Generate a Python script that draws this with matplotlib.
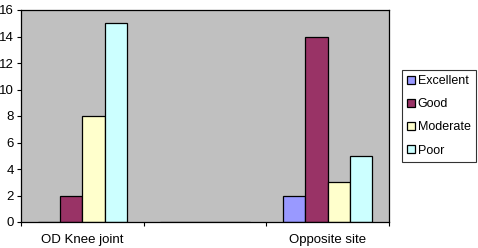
import matplotlib
matplotlib.use("Agg")
import matplotlib.pyplot as plt
import numpy as np

categories = ["OD Knee joint", "", "Opposite site"]
series_names = ["Excellent", "Good", "Moderate", "Poor"]
excellent = [0, 0, 2]
good = [2, 0, 14]
moderate = [8, 0, 3]
poor = [15, 0, 5]
colors = ["#9999FF", "#993366", "#FFFFCC", "#CCFFFF"]
yticks = [0, 2, 4, 6, 8, 10, 12, 14, 16]

plt.rcParams['font.family'] = ['Liberation Sans', 'DejaVu Sans']
FS = 9.5

fig = plt.figure(figsize=(4.78, 2.48), dpi=100)
ax = fig.add_axes([21/478, 1-222/248, (389-21)/478, (222-10)/248])
ax.set_facecolor("#C0C0C0")

x = np.arange(len(categories))
w = 1/5.5
data = [excellent, good, moderate, poor]
handles = []
for i, (vals, c, name) in enumerate(zip(data, colors, series_names)):
    b = ax.bar(x + (i - 1.5) * w, vals, width=w, color=c, edgecolor="black",
               linewidth=0.9, label=name)
    handles.append(b)

ax.set_xlim(-0.5, 2.5)
ax.set_ylim(0, 16)
ax.set_yticks(yticks)
ax.set_yticklabels([str(v) for v in yticks], fontsize=FS)
ax.set_xticks([0, 2])
ax.set_xticklabels([categories[0], categories[2]], fontsize=FS)
ax.tick_params(axis='x', length=0, pad=9)
ax.set_xticks([-0.5, 0.5, 1.5, 2.5], minor=True)
ax.tick_params(axis='x', which='minor', length=3, width=0.8, direction='out')
ax.tick_params(axis='y', length=3, width=0.8, direction='out', pad=2)
for s in ax.spines.values():
    s.set_linewidth(0.9)
    s.set_color("black")

leg = fig.legend(handles=handles, labels=series_names,
                 loc='upper left', bbox_to_anchor=(402/478, 1-70/248),
                 fontsize=9, frameon=True, fancybox=False, edgecolor="black",
                 handlelength=0.6, handleheight=0.6, handletextpad=0.25,
                 labelspacing=0.9, borderpad=0.4, borderaxespad=0)
leg.get_frame().set_linewidth(0.8)

fig.savefig("out.png", dpi=100)
